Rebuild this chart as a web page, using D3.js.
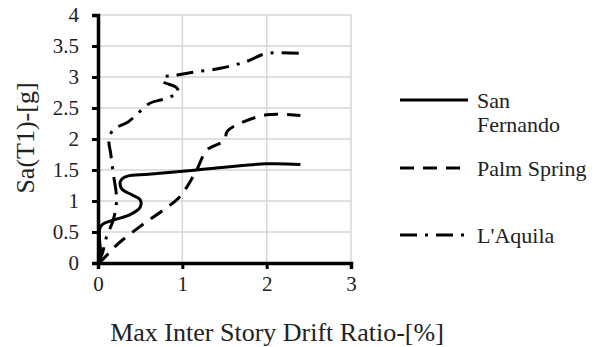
<!DOCTYPE html>
<html>
<head>
<meta charset="utf-8">
<script src="https://cdn.jsdelivr.net/npm/d3@7"></script>
<style>
  body { margin: 0; background: #fff; }
  svg text { font-family: "Liberation Serif", "Times New Roman", Tinos, "DejaVu Serif", serif; fill: #222; }
</style>
</head>
<body>
<div id="chart"></div>
<script>
// --- data ---
const xTicks = [0, 1, 2, 3];
const yTicks = [0, 0.5, 1, 1.5, 2, 2.5, 3, 3.5, 4];

const sanFernandoDrift = [0, 0.03, 0.02, 0.02, 0.05, 0.2, 0.38, 0.5, 0.5, 0.4, 0.28, 0.27, 0.35, 0.6, 1.17, 2.0, 2.4];
const sanFernandoSa    = [0, 0.15, 0.35, 0.55, 0.62, 0.7, 0.78, 0.9, 1.02, 1.1, 1.2, 1.33, 1.4, 1.43, 1.5, 1.6, 1.59];

const palmSpringDrift = [0, 0.05, 0.22, 0.5, 0.77, 0.97, 1.17, 1.29, 1.5, 1.53, 1.68, 2.0, 2.4];
const palmSpringSa    = [0, 0.05, 0.29, 0.59, 0.85, 1.07, 1.5, 1.82, 1.98, 2.12, 2.25, 2.39, 2.38];

const aquilaDrift = [0, 0.05, 0.1, 0.18, 0.22, 0.18, 0.15, 0.13, 0.18, 0.36, 0.62, 0.77, 0.95, 0.93, 0.77, 0.78, 0.9, 1.09, 1.45, 1.76, 2.0, 2.4];
const aquilaSa    = [0, 0.15, 0.42, 0.69, 1.02, 1.45, 1.77, 1.98, 2.15, 2.28, 2.58, 2.64, 2.75, 2.83, 2.93, 3.0, 3.02, 3.07, 3.14, 3.25, 3.38, 3.38];

const series = [
  { name: ["San", "Fernando"], drift: sanFernandoDrift, sa: sanFernandoSa, dash: null },
  { name: ["Palm Spring"],     drift: palmSpringDrift,  sa: palmSpringSa,  dash: "14,9" },
  { name: ["L'Aquila"],        drift: aquilaDrift,      sa: aquilaSa,      dash: "17,8,3,8" }
];

const serif = '"Liberation Serif", "Times New Roman", Tinos, "DejaVu Serif", serif';

// --- sizing ---
const W = 597, H = 347;
const plot = { left: 98, right: 351, top: 15, bottom: 263 };

const svg = d3.select("#chart").append("svg")
  .attr("width", W).attr("height", H)
  .style("font-family", serif);

const x = d3.scaleLinear().domain([0, 3]).range([plot.left, plot.right]);
const y = d3.scaleLinear().domain([0, 4]).range([plot.bottom, plot.top]);

// grid
svg.append("g").selectAll("line").data(yTicks.filter(d => d > 0)).join("line")
  .attr("x1", plot.left).attr("x2", plot.right)
  .attr("y1", d => y(d)).attr("y2", d => y(d))
  .attr("stroke", "#d6d6d6").attr("stroke-width", 1.5);
svg.append("g").selectAll("line").data(xTicks.filter(d => d > 0)).join("line")
  .attr("x1", d => x(d)).attr("x2", d => x(d))
  .attr("y1", plot.top).attr("y2", plot.bottom)
  .attr("stroke", "#d6d6d6").attr("stroke-width", 1.5);

// axes
const xAxis = svg.append("g")
  .attr("transform", `translate(0,${plot.bottom})`)
  .call(d3.axisBottom(x).tickValues(xTicks).tickSize(6).tickPadding(6).tickFormat(d3.format("d")));
const yAxis = svg.append("g")
  .attr("transform", `translate(${plot.left},0)`)
  .call(d3.axisLeft(y).tickValues(yTicks).tickSize(6).tickPadding(13).tickFormat(d => d));

[xAxis, yAxis].forEach(a => {
  a.attr("font-family", serif).attr("font-size", 21);
  a.select(".domain").attr("stroke", "#000").attr("stroke-width", 3.5);
  a.selectAll(".tick line").attr("stroke", "#000").attr("stroke-width", 3);
  a.selectAll(".tick text").attr("fill", "#222");
});
xAxis.selectAll(".tick text").attr("dy", "0.75em");

// axis titles
svg.append("text")
  .attr("x", 277).attr("y", 341)
  .attr("text-anchor", "middle")
  .style("font-size", "26px")
  .text("Max Inter Story Drift Ratio-[%]");

svg.append("text")
  .attr("transform", "translate(34,138) rotate(-90)")
  .attr("text-anchor", "middle")
  .style("font-size", "26px")
  .text("Sa(T1)-[g]");

// lines
const line = d3.line()
  .x(d => x(d[0]))
  .y(d => y(d[1]))
  .curve(d3.curveCatmullRom.alpha(0.5));

series.forEach(s => {
  svg.append("path")
    .datum(s.drift.map((d, i) => [d, s.sa[i]]))
    .attr("fill", "none")
    .attr("stroke", "#000")
    .attr("stroke-width", 3)
    .attr("stroke-dasharray", s.dash)
    .attr("d", line);
});

// legend
const legendY = [100, 168, 235];
series.forEach((s, i) => {
  const g = svg.append("g").attr("transform", `translate(400,${legendY[i]})`);
  g.append("line")
    .attr("x1", 0).attr("x2", 68)
    .attr("stroke", "#000").attr("stroke-width", 3)
    .attr("stroke-dasharray", s.dash);
  s.name.forEach((t, j) => {
    g.append("text")
      .attr("x", 77).attr("y", 8 + j * 24)
      .style("font-size", "22px")
      .text(t);
  });
});
</script>
</body>
</html>
